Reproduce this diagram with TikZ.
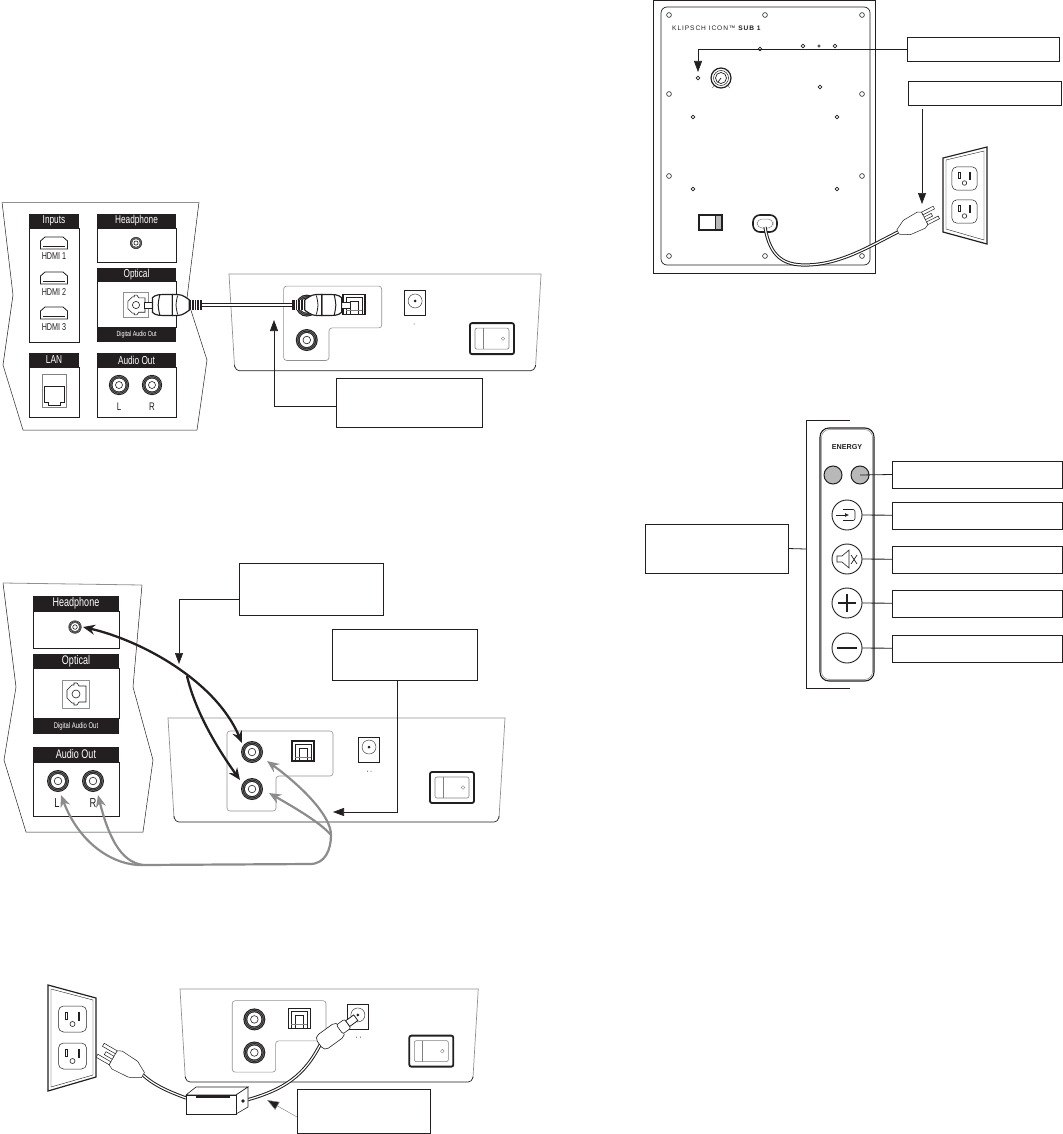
\documentclass[tikz,border=0pt]{standalone}
\usepackage{fontspec}
\usepackage{xcolor}
\usetikzlibrary{arrows.meta,positioning,calc}
\setmainfont{Liberation Sans}
\newfontfamily\narrowfont[FakeStretch=0.72]{Liberation Sans}
\newfontfamily\spacedfont[LetterSpace=14]{Liberation Sans}
\definecolor{hdrblack}{HTML}{231f20}
\definecolor{wiregray}{HTML}{8c8c8c}
\definecolor{paneledge}{HTML}{909090}
\definecolor{ledgray}{HTML}{b8b8b8}

\begin{document}
\begin{tikzpicture}[
    x=1pt, y=-1pt,
    calloutbox/.style={rectangle, draw=hdrblack, fill=white, line width=.8pt,
                       inner sep=0pt, outer sep=0pt},
    hdrbar/.style={rectangle, fill=hdrblack, text=white, inner sep=0pt, outer sep=0pt,
                   font=\narrowfont\fontsize{11.5}{12}\selectfont},
    portbox/.style={rectangle, draw=hdrblack, fill=white, line width=.8pt,
                    inner sep=0pt, outer sep=0pt},
    smalllabel/.style={text=hdrblack, inner sep=0pt,
                       font=\narrowfont\fontsize{10}{11}\selectfont},
    footlabel/.style={hdrbar, font=\narrowfont\fontsize{7.4}{8}\selectfont},
    callout/.style={draw=hdrblack, line width=.6pt, -{Triangle[length=11pt,width=8pt]}},
    leadline/.style={draw=hdrblack, line width=.8pt},
    blackwire/.style={draw=hdrblack, line width=2.3pt, {Stealth[length=12pt,width=10pt]}-{Stealth[length=12pt,width=10pt]}},
    graywire/.style={draw=wiregray, line width=2.2pt},
    grayhead/.style={{Stealth[length=12pt,width=10pt]}-},
    cord/.style={draw=hdrblack, line width=1pt, double=white, double distance=1.2pt},
    roundbtn/.style={circle, draw=hdrblack, fill=white, line width=.9pt,
                     minimum size=30pt, inner sep=0pt, outer sep=0pt},
    ledbtn/.style={circle, draw=hdrblack, fill=ledgray, line width=1pt,
                   minimum size=18pt, inner sep=0pt, outer sep=0pt},
    screwhole/.style={draw=hdrblack, line width=.6pt, fill=white},
    rcajack/.pic={
        \fill[hdrblack] (0,0) circle[radius=11];
        \draw[gray,line width=.4pt] (0,0) circle[radius=9.7];
        \draw[gray,line width=.4pt] (0,0) circle[radius=8.3];
        \fill[white] (0,0) circle[radius=7];
        \draw[hdrblack,line width=.6pt] (0,0) circle[radius=3.8];
    },
    optsocket/.pic={
        \draw[hdrblack,fill=white,line width=1.4pt] (-11,-10) rectangle (11,10);
        \draw[hdrblack,line width=.6pt] (-8,10) -- (-8,-7) -- (8,-7) -- (8,10);
        \draw[hdrblack,line width=1pt] (-4,10) -- (-4,-3) -- (4,-3) -- (4,10);
        \draw[gray,line width=.5pt] (-8,6) -- (8,6);
    },
    optport/.pic={
        \draw[paneledge,fill=white,line width=.9pt] (-13.5,-14) rectangle (13.5,14);
        \draw[hdrblack,line width=.6pt] (-9,-4) -- (-4,-9) -- (-2,-9) -- (-2,-11) -- (1,-11)
            -- (3,-8) -- (10,-8) -- (10,8) -- (3,8) -- (1,11) -- (-2,11) -- (-2,9) -- (-4,9) -- (-9,4) -- cycle;
        \draw[hdrblack,line width=.6pt] (0,0) circle[radius=4];
    },
    dcjack/.pic={
        \draw[hdrblack,fill=white,line width=1pt] (-10.5,-10) rectangle (10.5,15);
        \draw[hdrblack,line width=.4pt] (0,0) circle[radius=7];
        \fill[hdrblack] (0,0) circle[radius=1.5];
    },
    rockerswitch/.pic={
        \draw[hdrblack,fill=white,line width=1.8pt,rounded corners=2pt] (-22,-15.5) rectangle (22,15.5);
        \draw[gray,line width=.6pt,rounded corners=2pt] (-17,-10.5) rectangle (17,10.5);
        \draw[gray,line width=.6pt] (-9,-10.5) -- (-9,10.5);
        \draw[gray,line width=.4pt] (11,0) circle[radius=1.8];
    },
    soundbase/.pic={
        \draw[paneledge,line width=.7pt] (6,100) -- (0,0) -- (337,0) -- (331,100);
        \draw[hdrblack,line width=.7pt,rounded corners=4pt] (6,98) -- (7,104) -- (330,104) -- (331,98);
        \draw[paneledge,line width=.6pt,rounded corners=3pt] (59,13) -- (165,13) -- (165,58)
            -- (108,58) -- (108,93) -- (59,93) -- cycle;
        \pic at (84,34) {rcajack};
        \pic at (84,71) {rcajack};
        \pic at (135,33) {optsocket};
        \pic at (201,29) {dcjack};
        \pic at (284,69.5) {rockerswitch};
    },
    hdmiport/.pic={
        \draw[hdrblack,line width=.8pt] (-13.5,6) -- (-13.5,-2) -- (-9,-6) -- (9,-6) -- (13.5,-2) -- (13.5,6) -- cycle;
        \draw[hdrblack,line width=.6pt] (-11,3) -- (11,3);
    },
    optplug/.pic={
        \draw[hdrblack,fill=white,line width=.6pt] (0,-3) rectangle (9,3);
        \draw[hdrblack,fill=white,line width=1.2pt] (8,-7) .. controls (12,-10) .. (27,-10)
            -- (27,10) .. controls (12,10) .. (8,7) -- cycle;
        \draw[hdrblack,line width=1pt] (15,-9.5) .. controls (13,0) .. (15,9.5);
        \draw[hdrblack,fill=white,line width=1.2pt] (27,-10) .. controls (36,-10) .. (43,-5)
            -- (43,5) .. controls (36,10) .. (27,10) -- cycle;
        \draw[hdrblack,line width=.8pt] (32,-9) .. controls (30,0) .. (32,9);
        \fill[hdrblack] (43,-4.5) rectangle (55,4.5);
        \foreach \ribx in {45,47.5,50,52.5} \draw[white,line width=.4pt] (\ribx,-4.5) -- (\ribx,4.5);
    },
    acplug/.pic={
        \draw[hdrblack,fill=white,line width=.5pt] (0,-2.5) -- (10,-8) -- (26,-9) -- (30,-7)
            -- (30,7) -- (26,9) -- (10,8) -- (0,2.5) -- cycle;
        \draw[hdrblack,fill=white,line width=.5pt] (30,-7) rectangle (43,-4);
        \draw[hdrblack,fill=white,line width=.5pt] (30,4) rectangle (43,7);
        \draw[hdrblack,fill=white,line width=.5pt] (30,-1.5) rectangle (38,1.5);
    },
    outletsocket/.pic={
        \draw[hdrblack,line width=.5pt,rounded corners=5pt] (-14,-13) rectangle (14,13);
        \draw[hdrblack,line width=.5pt] (-7.5,-7) rectangle (-5,0);
        \fill[hdrblack] (5,-7) rectangle (7.5,2);
        \draw[hdrblack,line width=.6pt] (0,5) circle[radius=2.5];
    },
]
\useasboundingbox (0,0) rectangle (1062,1134);

% TV rear, optical hookup
\draw[hdrblack,line width=.5pt] (199,202) -- (187,298) -- (207,360) -- (197,430) -- (23,430)
    -- (3,365) -- (13,295) -- (2,202);
\draw[paneledge,line width=1pt] (2,202) -- (199,202);
\node[hdrbar,minimum width=50pt,minimum height=14pt] (inputshdr) at (54,221) {Inputs};
\node[portbox,below=0pt of inputshdr,minimum width=50pt,minimum height=114pt] (inputsbox) {};
\node[hdrbar,minimum width=79pt,minimum height=14pt] (headhdr) at (136.5,221) {Headphone};
\node[portbox,below=0pt of headhdr,minimum width=79pt,minimum height=34pt] (headbox) {};
\node[hdrbar,minimum width=79pt,minimum height=14pt] (opthdr) at (136.5,274.5) {Optical};
\node[portbox,below=0pt of opthdr,minimum width=79pt,minimum height=46pt] (optbox) {};
\node[footlabel,below=0pt of optbox,minimum width=79pt,minimum height=14pt] (optfoot) {Digital Audio Out};
\node[hdrbar,minimum width=50pt,minimum height=14pt] (lanhdr) at (54,360) {LAN};
\node[portbox,below=0pt of lanhdr,minimum width=50pt,minimum height=50pt] (lanbox) {};
\node[hdrbar,minimum width=79pt,minimum height=14pt] (audiohdr) at (136.5,360) {Audio Out};
\node[portbox,below=0pt of audiohdr,minimum width=79pt,minimum height=50pt] (audiobox) {};

\pic at (54,243) {hdmiport};
\pic at (54,278) {hdmiport};
\pic at (54,313) {hdmiport};
\node[smalllabel] (hdmia) at (54,256) {HDMI 1};
\node[smalllabel] (hdmib) at (54,292) {HDMI 2};
\node[smalllabel] (hdmic) at (54,327) {HDMI 3};
\draw[gray,line width=.9pt] (42,374) rectangle (66,407);
\draw[hdrblack,line width=.7pt] (44,386) -- (64,386) -- (64,402) -- (60,402) -- (60,405) -- (48,405) -- (48,402) -- (44,402) -- cycle;
\pic[scale=.55] at (136,243) {rcajack};
\pic[scale=.9] at (136,305) {optport};
\pic[scale=.92] at (119,385) {rcajack};
\pic[scale=.92] at (152,385) {rcajack};
\node[smalllabel,font=\narrowfont\fontsize{11}{11}\selectfont] (audl) at (119,407) {L};
\node[smalllabel,font=\narrowfont\fontsize{11}{11}\selectfont] (audr) at (152,407) {R};

\pic[xscale=.926,yscale=.93] at (229,274) {soundbase};
\fill[hdrblack] (414,324) circle[radius=.5];
\coordinate (optwireL) at (200,305);
\coordinate (optwireR) at (294,305);
\draw[draw=hdrblack,line width=1.2pt,double=white,double distance=1.2pt] (optwireL) -- (optwireR);
\pic[scale=1.05] at (144,305) {optplug};
\pic[xscale=-1.05,yscale=1.05] at (350,305) {optplug};
\node[calloutbox,minimum width=146pt,minimum height=49pt] (optcall) at (409,402.5) {};
\coordinate (opttip) at (274,320);
\draw[callout] (optcall.west) ++(0,4) -| (opttip);

% TV rear, analog hookup
\draw[hdrblack,line width=.5pt] (142,585) -- (133,687) -- (153,760) -- (143,832) -- (26,832)
    -- (4,760) -- (16,687) -- (3,583);
\draw[paneledge,line width=.8pt] (3,583) -- (142,585);
\node[hdrbar,font=\narrowfont\fontsize{12.5}{13}\selectfont,minimum width=86pt,minimum height=15pt] (headhdrb) at (76,603.5) {Headphone};
\node[portbox,below=0pt of headhdrb,minimum width=86pt,minimum height=37pt] (headboxb) {};
\node[hdrbar,font=\narrowfont\fontsize{12.5}{13}\selectfont,minimum width=86pt,minimum height=15pt] (opthdrb) at (76,661) {Optical};
\node[portbox,below=0pt of opthdrb,minimum width=86pt,minimum height=50pt] (optboxb) {};
\node[footlabel,font=\narrowfont\fontsize{8.2}{9}\selectfont,below=0pt of optboxb,minimum width=86pt,minimum height=15pt] (optfootb) {Digital Audio Out};
\node[hdrbar,font=\narrowfont\fontsize{12.5}{13}\selectfont,minimum width=86pt,minimum height=15pt] (audiohdrb) at (76,754.5) {Audio Out};
\node[portbox,below=0pt of audiohdrb,minimum width=86pt,minimum height=54pt] (audioboxb) {};
\pic[scale=.6] at (75,627) {rcajack};
\pic at (76,694) {optport};
\pic at (58,781) {rcajack};
\pic at (93,781) {rcajack};
\node[smalllabel,font=\narrowfont\fontsize{13}{13}\selectfont] (audlb) at (57,803) {L};
\node[smalllabel,font=\narrowfont\fontsize{13}{13}\selectfont] (audrb) at (93,803) {R};

\pic at (168,718) {soundbase};
\fill[hdrblack] (367.5,771) circle[radius=.5] (371,771) circle[radius=.5];

\coordinate (hpjack) at (83,627);
\coordinate (rcatop) at (242,743);
\coordinate (rcabot) at (240,780);
\coordinate (splitpt) at (187,676);
\coordinate (audl) at (61,795);
\coordinate (audr) at (98,795);
\coordinate (rcagraytop) at (267,761);
\coordinate (rcagraybot) at (269,793);
\coordinate (bendl) at (143,865);
\coordinate (bendr) at (310,864);
\coordinate (loopr) at (331,835);
\draw[blackwire] (hpjack) .. controls (140,640) and (215,680) .. (rcatop);
\draw[draw=hdrblack,line width=2.3pt,-{Stealth[length=12pt,width=10pt]}] (splitpt) .. controls (195,710) and (215,745) .. (rcabot);
\draw[graywire,grayhead] (audr) .. controls (108,835) and (120,862) .. (bendl);
\draw[graywire,grayhead] (rcagraybot) .. controls (290,805) and (320,822) .. (loopr);
\draw[graywire,{Stealth[length=12pt,width=10pt]}-{Stealth[length=12pt,width=10pt]}] (audl) .. controls (80,845) and (115,866) .. (bendl)
    -- (bendr) .. controls (325,864) and (331,850) .. (loopr)
    .. controls (331,815) and (300,785) .. (rcagraytop);

\node[calloutbox,minimum width=144pt,minimum height=52pt] (headcall) at (311,589) {};
\node[calloutbox,minimum width=145pt,minimum height=51pt] (linecall) at (404.5,654.5) {};
\coordinate (headtip) at (179,664);
\coordinate (linetip) at (333,812);
\draw[callout] (headcall.west) ++(0,10) -| (headtip);
\draw[callout] (linecall.south) ++(-7,0) |- (linetip);

% Power hookup
\draw[hdrblack,fill=white,line width=1.2pt] (48,985) -- (96,998) -- (96,1077) -- (48,1091) -- cycle;
\draw[hdrblack,line width=.4pt] (51,989) -- (93,1000) -- (93,1075) -- (51,1087) -- cycle;
\pic at (72.5,1019) {outletsocket};
\pic at (72.5,1056) {outletsocket};

\pic[xscale=.885,yscale=.894] at (180,989) {soundbase};
\fill[hdrblack] (356.5,1037) circle[radius=.5] (360.5,1037) circle[radius=.5];

\coordinate (wirea) at (143,1075);
\coordinate (wireb) at (186,1098);
\coordinate (wirec) at (243,1101);
\coordinate (wired) at (321,1043);
\draw[cord] (wirea) .. controls (155,1086) and (170,1092) .. (wireb);
\draw[cord] (wirec) .. controls (285,1090) and (305,1075) .. (wired);
\pic[rotate=150,scale=1.15] at (wirea) {acplug};

\draw[hdrblack,fill=white,line width=.6pt] (186,1095) -- (196,1087) -- (248,1087) -- (236,1095) -- cycle;
\draw[hdrblack,fill=white,line width=.6pt] (236,1095) -- (248,1087) -- (248,1107) -- (236,1114) -- cycle;
\draw[hdrblack,fill=white,line width=.7pt] (186,1095) rectangle (236,1114);
\draw[hdrblack,line width=1.2pt] (196,1097) -- (230,1097);
\fill[hdrblack] (243,1101) circle[radius=1.8];

\begin{scope}[shift={(wired)},rotate=36]
    \draw[hdrblack,fill=white,line width=.6pt,rounded corners=5pt] (-2,-8.5) rectangle (25,8.5);
    \draw[hdrblack,fill=white,line width=.6pt,rounded corners=2pt] (23,-5.5) rectangle (33,5.5);
    \draw[hdrblack,fill=white,line width=.8pt] (33,-3.5) rectangle (43,3.5);
\end{scope}

\node[calloutbox,minimum width=133pt,minimum height=44pt] (powercall) at (363.5,1111) {};
\coordinate (powertip) at (267,1100);
\draw[draw=wiregray,line width=.5pt,-{Triangle[length=12pt,width=9pt,fill=hdrblack]}] (powercall.west) ++(0,6) -- (powertip);

% Subwoofer rear
\draw[hdrblack,line width=.9pt] (653,0) rectangle (875,273);
\draw[hdrblack,line width=.7pt,rounded corners=6pt] (661,7) rectangle (870,265);
\foreach \sx/\sy in {669/15,765/15,862/15,669/94,862/94,669/176,862/176,669/256,765/256,862/256}
    \draw[screwhole] (\sx,\sy) circle[radius=2.4];
\foreach \sx/\sy in {760/49,803/46,835/46,698/78,820/87,693/117,837/117,693/189,837/189}
    \draw[screwhole] (\sx,\sy) circle[radius=1.9];
\draw[screwhole] (819,46) circle[radius=1.2];
\node[inner sep=0pt,anchor=west,text=hdrblack,font=\spacedfont\fontsize{6.6}{8}\selectfont] (sublogo) at (672,28) {KLIPSCH ICON™ {\bfseries SUB 1}};
\draw[hdrblack,line width=1.2pt] (721,78) circle[radius=10];
\draw[hdrblack,line width=.5pt] (721,78) circle[radius=7.5];
\draw[hdrblack,line width=.7pt] (721,78) circle[radius=5.5];
\draw[hdrblack,line width=.7pt] (718,82) -- (721,78);
\draw[gray,line width=.4pt] (712,88) -- (714,86) (730,88) -- (728,86);
\draw[hdrblack,fill=white,line width=1.1pt] (699,215) rectangle (722,230);
\fill[ledgray] (715,215.6) rectangle (721.4,229.4);
\draw[hdrblack,line width=.5pt] (715,215) -- (715,230);
\draw[hdrblack,fill=white,line width=1.6pt,rounded corners=7pt] (753,215) rectangle (777,232);
\draw[gray,fill=white,line width=.5pt,rounded corners=5pt] (757,219) rectangle (773,228);
\coordinate (inletpt) at (765,227);
\coordinate (sublow) at (805,265);
\coordinate (subplug) at (898,232);
\draw[cord] (inletpt) .. controls (770,258) and (785,265) .. (sublow)
    .. controls (840,265) and (870,246) .. (subplug);
\pic[rotate=27] at (subplug) {acplug};
\draw[hdrblack,fill=white,line width=1.2pt] (943,158) -- (987,147) -- (987,244) -- (943,232) -- cycle;
\draw[hdrblack,line width=.4pt] (946,160) -- (984,151) -- (984,240) -- (946,229) -- cycle;
\pic[scale=.9] at (964.5,178.5) {outletsocket};
\pic[scale=.9] at (964.5,211.5) {outletsocket};

\node[calloutbox,minimum width=152pt,minimum height=24pt] (inputcall) at (983,49) {};
\node[calloutbox,minimum width=153pt,minimum height=24pt] (plugcall) at (984.5,93) {};
\coordinate (knobtip) at (698,72);
\coordinate (plugtail) at (922,109);
\coordinate (plugtip) at (922,204);
\draw[callout] (inputcall.west) -| (knobtip);
\draw[callout] (plugtail) -- (plugtip);

% Remote control
\draw[hdrblack,line width=.8pt] (850,420) -- (806,420) -- (806,688) -- (850,688);
\draw[hdrblack,line width=1.1pt,rounded corners=9pt] (820,428) rectangle (874,681);
\draw[gray,line width=.5pt,rounded corners=8pt] (821.5,429.5) rectangle (872.5,679.5);
\node[inner sep=0pt,text=hdrblack,font=\fontsize{7.2}{8}\selectfont\bfseries] (energylogo) at (847,447) {ENERGY};
\node[ledbtn] (ledleft) at (833,475) {};
\node[ledbtn] (ledright) at (860,475) {};
\node[roundbtn] (inputbtn) at (847,515) {};
\node[roundbtn] (mutebtn) at (847,559) {};
\node[roundbtn] (upbtn) at (847,603) {};
\node[roundbtn] (downbtn) at (847,648) {};

\draw[hdrblack,line width=.6pt,rounded corners=2pt] (843,509.5) -- (855,509.5) -- (855,520.5) -- (843,520.5);
\draw[hdrblack,line width=.6pt,-{Latex[length=4pt,width=4pt]}] (836,515) -- (849,515);
\draw[hdrblack,line width=.6pt] (837,556) -- (842,556) -- (849,550) -- (849,568) -- (842,562) -- (837,562) -- cycle;
\draw[hdrblack,line width=.7pt] (851,555) -- (857,564) (857,555) -- (851,564);
\draw[hdrblack,line width=1.5pt] (847,594) -- (847,612) (838,603) -- (856,603);
\draw[hdrblack,line width=1.5pt] (837,648) -- (857,648);

\node[calloutbox,minimum width=170pt,minimum height=27pt] (ledcall) at (977,474.5) {};
\node[calloutbox,minimum width=170pt,minimum height=27pt] (inputcallb) at (977,515.5) {};
\node[calloutbox,minimum width=170pt,minimum height=27pt] (mutecall) at (977,559.5) {};
\node[calloutbox,minimum width=170pt,minimum height=27pt] (upcall) at (977,603.5) {};
\node[calloutbox,minimum width=170pt,minimum height=27pt] (downcall) at (977,648.5) {};
\node[calloutbox,minimum width=143pt,minimum height=49pt] (remotecall) at (716.5,548.5) {};
\coordinate (brackpt) at (806,549);
\draw[leadline] (ledright.center) -- (ledcall.west);
\draw[leadline] (inputbtn) -- (inputcallb);
\draw[leadline] (mutebtn) -- (mutecall);
\draw[leadline] (upbtn) -- (upcall);
\draw[leadline] (downbtn) -- (downcall);
\draw[leadline] (remotecall.east) -- (brackpt);

\end{tikzpicture}
\end{document}
